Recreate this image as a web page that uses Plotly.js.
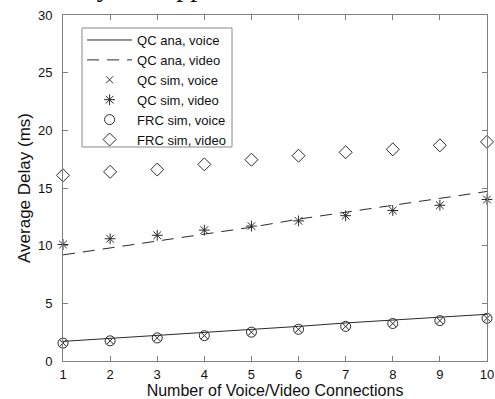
<!DOCTYPE html>
<html><head><meta charset="utf-8">
<script src="https://cdn.plot.ly/plotly-3.0.1.min.js"></script>
<style>html,body{margin:0;padding:0;background:#fff}#c{width:495px;height:399px}</style>
</head><body><div id="c"></div>
<script>
const connections = [1,2,3,4,5,6,7,8,9,10];
const qcAnaVoice = [1.7,1.95,2.2,2.45,2.75,3.0,3.3,3.55,3.8,4.05];
const qcAnaVideo = [9.2,9.8,10.4,11.0,11.6,12.3,12.9,13.5,14.1,14.7];
const qcSimVoice = [1.55,1.75,2.0,2.2,2.5,2.75,3.0,3.25,3.5,3.7];
const qcSimVideo = [10.1,10.6,10.9,11.35,11.7,12.15,12.6,13.05,13.5,14.0];
const frcSimVoice = [1.55,1.75,2.0,2.2,2.5,2.75,3.0,3.25,3.5,3.7];
const frcSimVideo = [16.1,16.4,16.6,17.05,17.45,17.8,18.1,18.35,18.7,19.0];
const names = ['QC ana, voice','QC ana, video','QC sim, voice','QC sim, video','FRC sim, voice','FRC sim, video'];
const yTicks = [0,5,10,15,20,25,30];

const ink = '#2a2a2a';
const traces = [
  {x:connections,y:qcAnaVoice,name:names[0],mode:'lines',line:{color:ink,width:1},cliponaxis:false},
  {x:connections,y:qcAnaVideo,name:names[1],mode:'lines',line:{color:ink,width:1,dash:'12px,8px'},cliponaxis:false},
  {x:connections,y:qcSimVoice,name:names[2],mode:'markers',cliponaxis:false,marker:{symbol:'x-thin-open',size:7,color:ink,line:{color:ink,width:1}}},
  {x:connections,y:qcSimVideo,name:names[3],mode:'markers',cliponaxis:false,marker:{symbol:'asterisk-open',size:9,color:ink,line:{color:ink,width:1}}},
  {x:connections,y:frcSimVoice,name:names[4],mode:'markers',cliponaxis:false,marker:{symbol:'circle-open',size:10,color:ink,line:{color:ink,width:1}}},
  {x:connections,y:frcSimVideo,name:names[5],mode:'markers',cliponaxis:false,marker:{symbol:'diamond-open',size:10,color:ink,line:{color:ink,width:1}}}
];
const axCommon = {showgrid:false,zeroline:false,showline:true,linecolor:'#808080',linewidth:1,mirror:'ticks',
  ticks:'inside',ticklen:5,tickcolor:'#808080',tickfont:{family:'Liberation Sans, Arial',size:13,color:'#111'}};
const layout = {
  width:495,height:399,margin:{l:63,r:8,t:15,b:38},
  paper_bgcolor:'#fff',plot_bgcolor:'#fff',
  font:{family:'Liberation Sans, Arial',color:'#111'},
  xaxis:Object.assign({},axCommon,{range:[1,10],tickvals:connections,ticklabelstandoff:1,
    title:{text:'Number of Voice/Video Connections',font:{size:16},standoff:4}}),
  yaxis:Object.assign({},axCommon,{range:[0,30],tickvals:yTicks,ticklabelstandoff:7,
    title:{text:'Average Delay (ms)',font:{size:17},standoff:2}}),
  showlegend:true,
  legend:{x:0.045,y:0.971,xanchor:'left',yanchor:'top',bgcolor:'rgba(0,0,0,0)',borderwidth:0,
    font:{size:13,color:'#111'},itemwidth:45,tracegroupgap:0},
  shapes:[{type:'rect',xref:'paper',yref:'paper',x0:0.0448,x1:0.3986,y0:0.6185,y1:0.9624,
    line:{color:'#888',width:1},fillcolor:'#fff',layer:'above'}],
  annotations:[{text:'Delay QC approach',xref:'paper',yref:'paper',x:-0.05,y:1.0,yshift:11,
    xanchor:'left',yanchor:'bottom',showarrow:false,font:{family:'Liberation Serif',size:28,color:'#111'}}]
};
Plotly.newPlot('c',traces,layout,{displayModeBar:false,staticPlot:true});
</script></body></html>
